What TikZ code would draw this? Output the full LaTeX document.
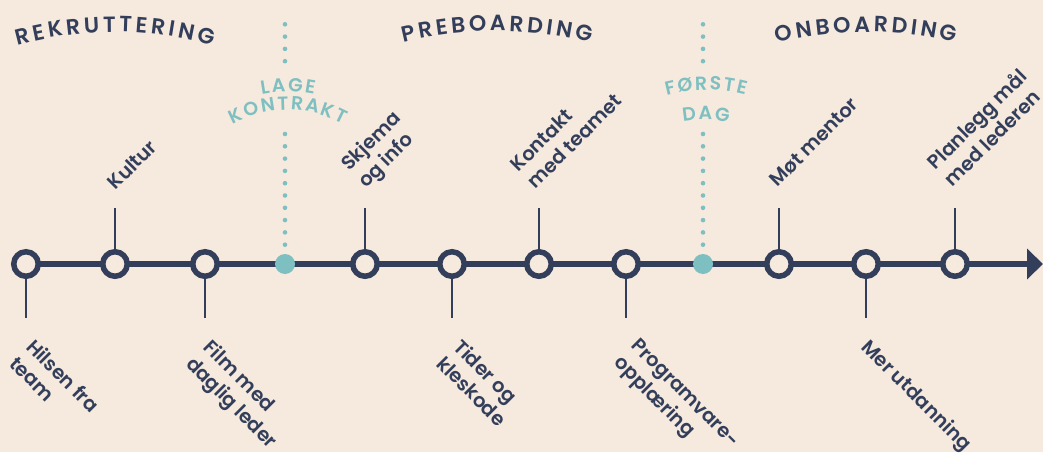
\documentclass[tikz,border=0pt]{standalone}
\usepackage{fontspec}
\newfontfamily\psb{Poppins SemiBold}
\usetikzlibrary{arrows.meta,decorations.text,backgrounds}
\definecolor{paper}{RGB}{246,233,222}
\definecolor{ink}{RGB}{50,62,90}
\definecolor{mint}{RGB}{126,192,193}
\newcommand\headfont{\psb\fontsize{22pt}{22pt}\selectfont}
\newcommand\markfont{\psb\fontsize{19pt}{19pt}\selectfont}
\newcommand\tk{\kern3.4pt}
\newcommand\tm{\kern2pt}

\begin{document}
\begin{tikzpicture}[x=1pt,y=1pt,
  ring/.style={circle,draw=ink,line width=5.5pt,fill=paper,minimum size=24.5pt,inner sep=0pt},
  milestone/.style={circle,fill=mint,minimum size=20pt,inner sep=0pt},
  tick/.style={draw=ink,line width=2.7pt},
  dots/.style={draw=mint,line width=4.6pt,line cap=round,dash pattern=on 0pt off 12.3pt},
  lbl/.style={font=\psb\fontsize{19.5pt}{24pt}\selectfont,text=ink,align=left,inner sep=0pt},
  up/.style={lbl,rotate=45,anchor=south west},
  down/.style={lbl,rotate=-45,anchor=north west},
  arch/.style={decorate,decoration={text along path,text align=center,text color=#1}},
]
\useasboundingbox (0,-452) rectangle (1043,0);

% timeline stations
\node[ring] (a1) at (26,-264) {};
\node[ring] (a2) at (115,-264) {};
\node[ring] (a3) at (205,-264) {};
\node[milestone] (m1) at (285,-264) {};
\node[ring] (a4) at (365,-264) {};
\node[ring] (a5) at (452,-264) {};
\node[ring] (a6) at (539,-264) {};
\node[ring] (a7) at (626,-264) {};
\node[milestone] (m2) at (703,-264) {};
\node[ring] (a8) at (779,-264) {};
\node[ring] (a9) at (866,-264) {};
\node[ring] (a10) at (955,-264) {};
\coordinate (end) at (1043,-264);

\begin{pgfonlayer}{background}
  \fill[paper] (0,-452) rectangle (1043,0);
  \draw[ink,line width=6pt,-{Triangle[length=16pt,width=30pt]}] (a1.center) -- (end);
\end{pgfonlayer}

% ticks below
\foreach \n/\x in {a1/26,a3/205,a5/452,a7/626,a9/866}
  \coordinate (\n e) at (\x,-318);
\foreach \n in {a1,a3,a5,a7,a9}
  \draw[tick] (\n) -- (\n e);
% ticks above
\foreach \n/\x in {a2/115,a4/365,a6/539,a8/779,a10/955}
  \coordinate (\n e) at (\x,-208);
\foreach \n in {a2,a4,a6,a8,a10}
  \draw[tick] (\n e) -- (\n);

% dotted milestone markers
\coordinate (m1t) at (285,-24.3);  \coordinate (m1u) at (285,-62);
\coordinate (m1v) at (285,-134);   \coordinate (m1w) at (285,-246);
\coordinate (m2t) at (703,-24.3);  \coordinate (m2u) at (703,-62);
\coordinate (m2v) at (703,-134);   \coordinate (m2w) at (703,-246);
\draw[dots] (m1t) -- (m1u);
\draw[dots] (m1v) -- (m1w);
\draw[dots] (m2t) -- (m2u);
\draw[dots] (m2v) -- (m2w);

% phase headings
\path[arch=ink,decoration={text={|\headfont|{R\tk}{E\tk}{K\tk}{R\tk}{U\tk}{T\tk}{T\tk}{E\tk}{R\tk}{I\tk}{N\tk}G}},shift={(115,-392)}]
  (115:360) arc[start angle=115,end angle=65,radius=360];
\path[arch=ink,decoration={text={|\headfont|{P\tk}{R\tk}{E\tk}{B\tk}{O\tk}{A\tk}{R\tk}{D\tk}{I\tk}{N\tk}G}},shift={(497,-421)}]
  (115:390) arc[start angle=115,end angle=65,radius=390];
\path[arch=ink,decoration={text={|\headfont|{O\tk}{N\tk}{B\tk}{O\tk}{A\tk}{R\tk}{D\tk}{I\tk}{N\tk}G}},shift={(866,-412)}]
  (115:380) arc[start angle=115,end angle=65,radius=380];

% milestone captions
\path[arch=mint,decoration={text={|\markfont|{L\tm}{A\tm}{G\tm}E}},shift={(288,-225)}]
  (130:133) arc[start angle=130,end angle=50,radius=133];
\path[arch=mint,decoration={text={|\markfont|{K\tm}{O\tm}{N\tm}{T\tm}{R\tm}{A\tm}{K\tm}T}},shift={(288,-225)}]
  (140:115) arc[start angle=140,end angle=40,radius=115];
\path[arch=mint,decoration={text={|\markfont|{F\tm}{Ø\tm}{R\tm}{S\tm}{T\tm}E}},shift={(706,-240)}]
  (125:150) arc[start angle=125,end angle=55,radius=150];
\path[arch=mint,decoration={text={|\markfont|{D\tm}{A\tm}G}},shift={(706,-240)}]
  (120:120) arc[start angle=120,end angle=60,radius=120];

% station labels
\node[up] (t2) at (116,-191) {Kultur};
\node[up] (t4) at (370,-193) {Skjema\\og info};
\node[up] (t6) at (536,-190) {Kontakt\\med teamet};
\node[up] (t8) at (778,-188) {Møt mentor};
\node[up] (t10) at (953,-188) {Planlegg mål\\med lederen};

\node[down] (b1) at (36,-337) {Hilsen fra\\team};
\node[down] (b3) at (213,-337) {Film med\\daglig leder};
\node[down] (b5) at (463,-337) {Tider og\\kleskode};
\node[down] (b7) at (640,-337) {Programvare-\\opplæring};
\node[down] (b9) at (871,-337) {Mer utdanning};
\end{tikzpicture}
\end{document}
